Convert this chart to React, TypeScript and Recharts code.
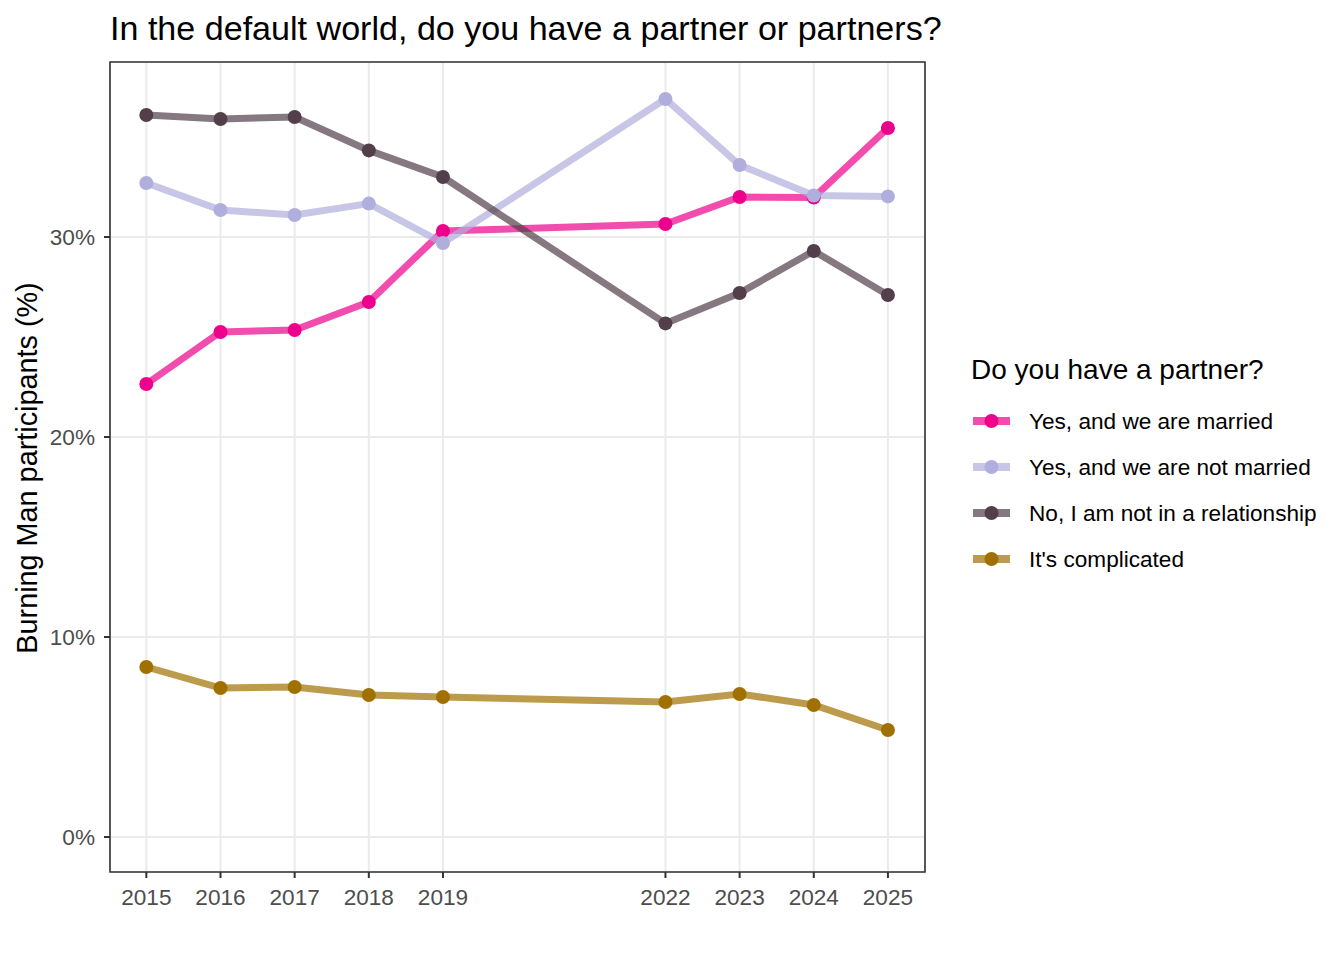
import React from "react";
import {
  LineChart,
  Line,
  XAxis,
  YAxis,
  CartesianGrid,
  ReferenceArea,
} from "recharts";

const years = [2015, 2016, 2017, 2018, 2019, 2022, 2023, 2024, 2025];
const married = [22.65, 25.25, 25.35, 26.75, 30.3, 30.65, 32.0, 31.97, 35.45];
const notMarried = [32.7, 31.35, 31.1, 31.67, 29.7, 36.9, 33.6, 32.07, 32.03];
const noRelationship = [36.1, 35.9, 36.0, 34.33, 33.0, 25.68, 27.2, 29.3, 27.1];
const complicated = [8.5, 7.45, 7.5, 7.1, 7.0, 6.75, 7.15, 6.6, 5.35];
const yTicks = [0, 10, 20, 30];

const seriesKeys = ["married", "notMarried", "noRelationship", "complicated"];
const seriesLabels = [
  "Yes, and we are married",
  "Yes, and we are not married",
  "No, I am not in a relationship",
  "It's complicated",
];
const seriesColors = ["#EC008C", "#B0AEDC", "#523F4A", "#A07000"];
const seriesValues = [married, notMarried, noRelationship, complicated];

const title = "In the default world, do you have a partner or partners?";
const yLabel = "Burning Man participants (%)";
const legendTitle = "Do you have a partner?";

const data = years.map((year, i) => {
  const row: Record<string, number> = { year };
  seriesKeys.forEach((k, j) => {
    row[k] = seriesValues[j][i];
  });
  return row;
});

const FONT = "'Liberation Sans', Arial, sans-serif";
const TICK_FILL = "#4D4D4D";
const AXIS_COLOR = "#333333";

export default function App() {
  return (
    <div
      style={{
        position: "absolute",
        left: 0,
        top: 0,
        width: 1344,
        height: 960,
        background: "#ffffff",
        fontFamily: FONT,
      }}
    >
      <LineChart
        width={1344}
        height={960}
        data={data}
        margin={{ top: 62, right: 419, bottom: 0, left: 0 }}
        style={{ fontFamily: FONT }}
      >
        <CartesianGrid stroke="#EBEBEB" strokeWidth={2} />
        <XAxis
          dataKey="year"
          type="number"
          domain={[2014.51, 2025.5]}
          ticks={years}
          interval={0}
          height={88}
          axisLine={false}
          tickLine={{ stroke: AXIS_COLOR, strokeWidth: 2 }}
          tickSize={6}
          tickMargin={11}
          tick={{ fill: TICK_FILL, fontSize: 22.6, fontFamily: FONT }}
        />
        <YAxis
          type="number"
          domain={[-1.75, 38.75]}
          ticks={yTicks}
          interval={0}
          width={110}
          axisLine={false}
          tickLine={{ stroke: AXIS_COLOR, strokeWidth: 2 }}
          tickSize={6}
          tickMargin={9}
          tickFormatter={(v: number) => `${v}%`}
          tick={{ fill: TICK_FILL, fontSize: 22.6, fontFamily: FONT }}
        />
        <ReferenceArea
          x1={2014.51}
          x2={2025.5}
          y1={-1.75}
          y2={38.75}
          fill="none"
          stroke={AXIS_COLOR}
          strokeWidth={1.6}
          fillOpacity={0}
          ifOverflow="extendDomain"
        />
        {seriesKeys.map((k, j) => (
          <Line
            key={`line-${k}`}
            dataKey={k}
            type="linear"
            stroke={seriesColors[j]}
            strokeOpacity={0.7}
            strokeWidth={7}
            dot={false}
            activeDot={false}
            legendType="none"
            isAnimationActive={false}
          />
        ))}
        {seriesKeys.map((k, j) => (
          <Line
            key={`dots-${k}`}
            dataKey={k}
            type="linear"
            stroke="none"
            strokeWidth={0}
            dot={{ r: 7, fill: seriesColors[j], stroke: "none", strokeWidth: 0 }}
            activeDot={false}
            legendType="none"
            isAnimationActive={false}
          />
        ))}
      </LineChart>
      <svg
        width={1344}
        height={960}
        style={{ position: "absolute", left: 0, top: 0, pointerEvents: "none" }}
      >
        <text x={110} y={40} fontSize={34.1} fill="#000000" fontFamily={FONT}>
          {title}
        </text>
        <text
          transform="translate(36.5, 468) rotate(-90)"
          textAnchor="middle"
          fontSize={28.8}
          fill="#000000"
          fontFamily={FONT}
        >
          {yLabel}
        </text>
        <text x={971} y={379} fontSize={28} fill="#000000" fontFamily={FONT}>
          {legendTitle}
        </text>
        {seriesLabels.map((label, i) => {
          const cy = 421 + 46 * i;
          return (
            <g key={label}>
              <line
                x1={973}
                x2={1010}
                y1={cy}
                y2={cy}
                stroke={seriesColors[i]}
                strokeOpacity={0.7}
                strokeWidth={8}
              />
              <circle cx={991.5} cy={cy} r={7} fill={seriesColors[i]} />
              <text
                x={1029}
                y={cy + 8}
                fontSize={22.6}
                fill="#000000"
                fontFamily={FONT}
              >
                {label}
              </text>
            </g>
          );
        })}
      </svg>
    </div>
  );
}
